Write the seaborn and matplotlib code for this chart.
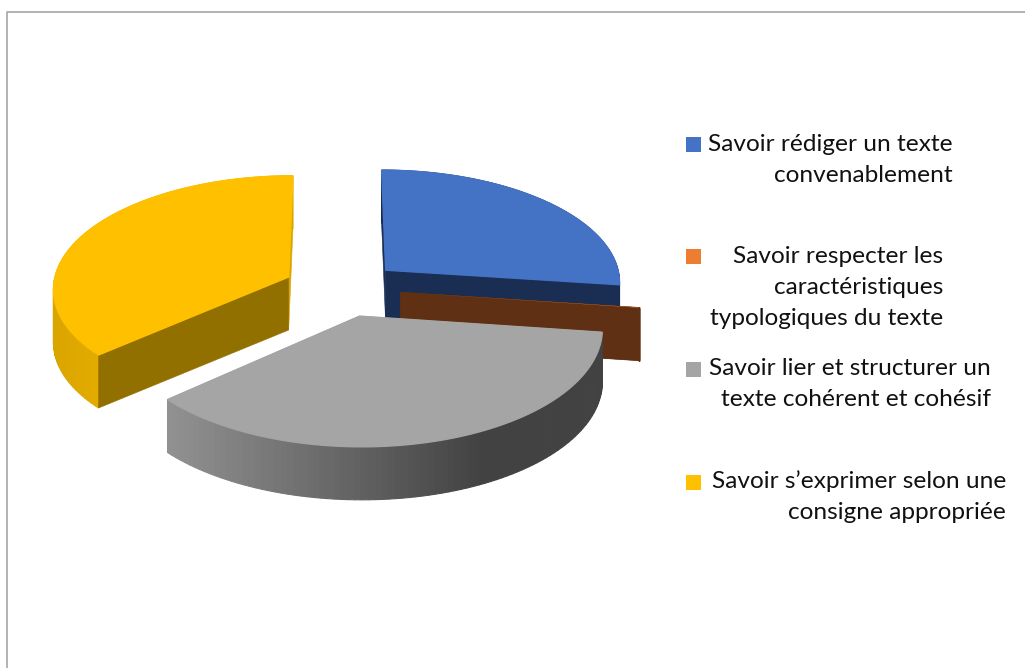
import numpy as np
import seaborn as sns
import matplotlib.pyplot as plt
from matplotlib.colors import to_rgb
from matplotlib.patches import Rectangle

labels = [
    "Savoir rédiger un texte\nconvenablement",
    "Savoir respecter les\ncaractéristiques\ntypologiques du texte",
    "Savoir lier et structurer un\ntexte cohérent et cohésif",
    "Savoir s’exprimer selon une\nconsigne appropriée",
]
values = [27.1, 0.05, 36.35, 36.5]
explode = [0.25, 0.25, 0.25, 0.25]

top_colors = ["#4472C4", "#ED7D31", "#A5A5A5", "#FFC000"]
cut_colors = ["#1A2D52", "#5F3013", "#8C8C8C", "#927000"]
cut_north = ["#1A2D52", "#5F3013", "#8C8C8C", "#D9A400"]
wall_left = ["#1A2D52", "#5F3013", "#929292", "#D9A400"]
wall_right = ["#1A2D52", "#5F3013", "#424242", "#E4AC00"]

sns.set_theme(style="white")
plt.rcParams["font.family"] = ["Lato", "DejaVu Sans"]

fig = plt.figure(figsize=(10.25, 6.68), dpi=100)
ax = fig.add_axes([0, 0, 1, 1])
wedges, _ = ax.pie(values, explode=explode, startangle=90, counterclock=False, colors=top_colors)

# the pie gives the angles, the 3d look is projected by hand
R = 236
D = 2500
k = 0.478
h = 53
ox, oy, vx = 342, 288.5, 338


def project(x, y, z=0):
    x, y = np.asarray(x) * R, np.asarray(y) * R
    s = 1 / (1 + y / D)
    return vx + (x + ox - vx) * s, oy - k * y * s + z * np.ones_like(s)


def blend(a, b, t):
    return tuple(np.array(to_rgb(a)) * (1 - t) + np.array(to_rgb(b)) * t)


for i in [3, 0, 1, 2]:
    w = wedges[i]
    cx, cy = w.center
    th = np.radians(np.linspace(w.theta1, w.theta2, 90))
    xs, ys = cx + w.r * np.cos(th), cy + w.r * np.sin(th)
    tx, ty = project(xs, ys)
    bx, by = project(xs, ys, h)
    ax0, ay0 = project(cx, cy)
    ax1, ay1 = project(cx, cy, h)

    # cut walls of the gray slice face away, they go first
    def draw_cuts():
        ax.fill([ax0, tx[0], bx[0], ax1], [ay0, ty[0], by[0], ay1], color=cut_north[i], lw=0.4)
        ax.fill([ax0, tx[-1], bx[-1], ax1], [ay0, ty[-1], by[-1], ay1], color=cut_colors[i], lw=0.4)

    if i == 2:
        draw_cuts()

    # outer wall, small quads for the gradient
    for j in range(len(th) - 1):
        t = np.clip((tx[j] - 165) / 315, 0, 1) if i == 2 else np.clip((tx[j] - 50) / 50, 0, 1)
        c = blend(wall_left[i], wall_right[i], t)
        ax.fill([tx[j], tx[j + 1], bx[j + 1], bx[j]], [ty[j], ty[j + 1], by[j + 1], by[j]], color=c, lw=0.8)

    if i != 2:
        draw_cuts()

    # top, the orange one is only a sliver and stays hidden in the original
    ax.fill(np.r_[ax0, tx], np.r_[ay0, ty], color=top_colors[i], lw=0 if i == 1 else 1.0)
    w.set_visible(False)

ax.set_aspect("auto")
ax.set_xlim(0, 1025)
ax.set_ylim(668, 0)
ax.set_axis_off()

# chart frame, runs off the crop on the right and at the bottom
ax.plot([7, 7, 1025], [668, 12, 12], color="#A6A6A6", lw=1.2, clip_on=False)

# legend
legend_top = [134, 246, 358, 470]
box_y = [144, 256, 369, 482]
right_edges = [953, 943, 991, 1006]
for lab, c, top, by_, right in zip(labels, top_colors, legend_top, box_y, right_edges):
    ax.add_patch(Rectangle((686, by_ - 7.5), 15, 15, color=c, lw=0))
    ax.text(right, top, lab, ha="right", va="top", ma="right", fontsize=17.6, color="#111111", linespacing=1.6)

fig.savefig("out.png", dpi=100)
